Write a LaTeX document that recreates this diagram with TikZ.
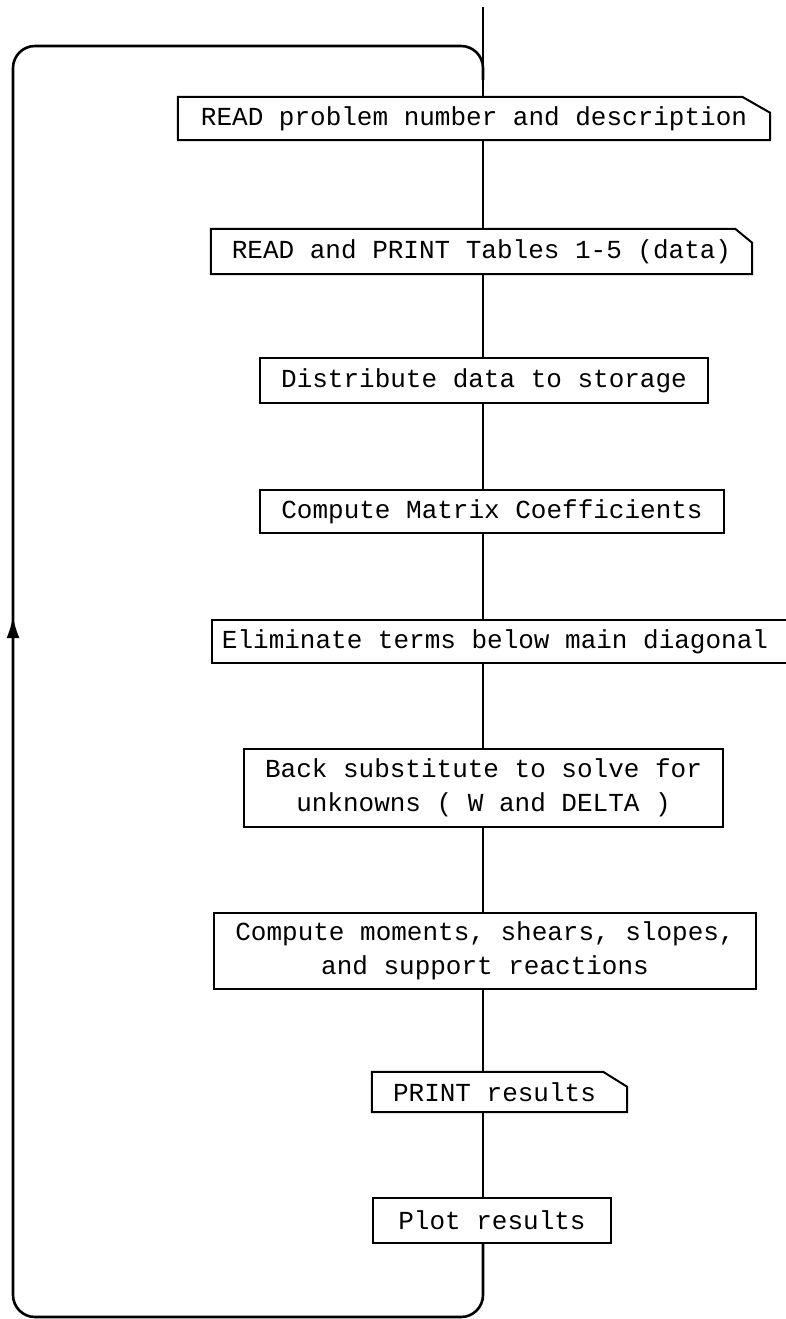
\documentclass[tikz,border=0pt]{standalone}
\usepackage{fontspec}
\newfontfamily\typer{Liberation Mono}
\usetikzlibrary{arrows.meta, decorations.markings}

\tikzset{
  flowline/.style={line width=2pt},
  boxline/.style={line width=2pt, line join=miter},
  boxtext/.style={inner sep=0pt, align=center, font=\typer\fontsize{26pt}{34pt}\selectfont},
  procbox/.style={draw, boxline, boxtext},
  iobox/.style={boxtext},
  loopline/.style={line width=2.6pt, rounded corners=22pt, postaction={decorate},
    decoration={markings, mark=at position 1225pt with {\arrow{Latex[length=22pt,width=13pt]}}}},
}

% outline of an input/output box: cut corner top right
\newcommand{\iooutline}[3]{%
  \draw[boxline] (#1.south west) -- (#1.north west) -- ([xshift=-#2]#1.north east)
    -- ([yshift=-#3]#1.north east) -- (#1.south east) -- cycle;}

\begin{document}
\begin{tikzpicture}[x=1pt, y=-1pt]
  \useasboundingbox (0,0) rectangle (786,1319);

  \coordinate (top) at (483,7);

  \node[iobox, minimum width=592pt, minimum height=43pt] (readprob) at (474,118.5) {READ problem number and description};
  \node[iobox, minimum width=541pt, minimum height=45pt] (readtab) at (481.5,251.5) {READ and PRINT Tables 1-5 (data)};
  \node[procbox, minimum width=448pt, minimum height=45pt] (distrib) at (484,380.5) {Distribute data to storage};
  \node[procbox, minimum width=464pt, minimum height=43pt] (matcoef) at (492,511.5) {Compute Matrix Coefficients};
  \node[boxtext, minimum height=43pt] (elim) at (495,641.5) {Eliminate terms below main diagonal};
  \node[procbox, minimum width=479pt, minimum height=78pt] (backsub) at (483.5,788) {Back substitute to solve for\\unknowns ( W and DELTA )};
  \node[procbox, minimum width=542pt, minimum height=76pt] (moments) at (485,951) {Compute moments, shears, slopes,\\and support reactions};
  \node[iobox, minimum width=255pt, minimum height=40pt] (printres) at (499.5,1092) {PRINT results\hspace{10pt}};
  \node[procbox, minimum width=238pt, minimum height=45pt] (plot) at (492,1220.5) {Plot results};

  \iooutline{readprob}{28pt}{16pt}
  \iooutline{readtab}{17pt}{14pt}
  \iooutline{printres}{24pt}{15pt}
  % this box runs off the right edge
  \draw[boxline] ([xshift=60pt]elim.north east) -- ([xshift=-10pt]elim.north west)
    -- ([xshift=-10pt]elim.south west) -- ([xshift=60pt]elim.south east);

  % main flow
  \draw[flowline] (top) -- (readprob.north -| top);
  \draw[flowline] (readprob.south -| top) -- (readtab.north -| top);
  \draw[flowline] (readtab.south -| top) -- (distrib.north -| top);
  \draw[flowline] (distrib.south -| top) -- (matcoef.north -| top);
  \draw[flowline] (matcoef.south -| top) -- (elim.north -| top);
  \draw[flowline] (elim.south -| top) -- (backsub.north -| top);
  \draw[flowline] (backsub.south -| top) -- (moments.north -| top);
  \draw[flowline] (moments.south -| top) -- (printres.north -| top);
  \draw[flowline] (printres.south -| top) -- (plot.north -| top);

  % return loop
  \coordinate (botright) at (483,1317);
  \coordinate (botleft) at (13,1317);
  \coordinate (topleft) at (13,46);
  \coordinate (topright) at (483,46);
  \coordinate (join) at (483,80);
  \draw[loopline] (plot.south -| top) -- (botright) -- (botleft) -- (topleft) -- (topright) -- (join);
\end{tikzpicture}
\end{document}
